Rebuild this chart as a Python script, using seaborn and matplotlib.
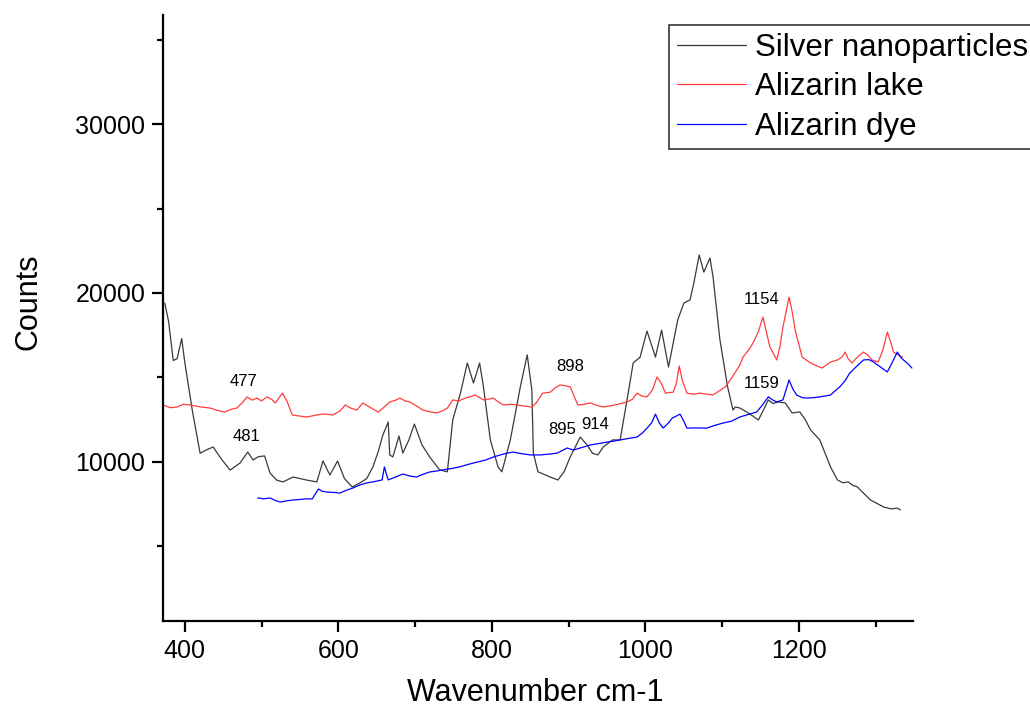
import pandas as pd
import matplotlib
matplotlib.use("Agg")
import matplotlib.pyplot as plt
from matplotlib.ticker import MultipleLocator
import seaborn as sns

# Raman spectra (wavenumber cm-1, counts)
silver_x = [374, 379, 385, 390, 396, 400, 410, 420, 428, 437, 447, 459, 472, 482, 489, 496, 504, 511, 520, 528,
            541, 560, 572, 580, 589, 599, 608, 618, 628, 637, 645, 652, 658, 665, 667, 671, 679, 684, 692, 699,
            709, 719, 732, 742, 749, 759, 768, 776, 784, 789, 798, 808, 813, 824, 837, 846, 852, 854, 860, 876,
            886, 894, 902, 915, 924, 931, 938, 945, 957, 967, 976, 984, 993, 1002, 1008, 1013, 1021, 1030, 1042, 1050,
            1058, 1063, 1070, 1076, 1084, 1088, 1097, 1107, 1114, 1117, 1123, 1132, 1140, 1147, 1153, 1160, 1166, 1173, 1182, 1191,
            1201, 1208, 1215, 1227, 1241, 1250, 1257, 1264, 1270, 1276, 1293, 1310, 1320, 1328, 1332]
silver_y = [19400, 18300, 16000, 16100, 17300, 15900, 13000, 10500, 10700, 10870, 10200, 9500, 9920, 10570, 10100, 10300, 10340, 9330, 8900, 8800,
            9090, 8900, 8800, 10040, 9210, 10040, 9000, 8500, 8740, 9000, 9690, 10600, 11580, 12350, 10400, 10280, 11520, 10510, 11300, 12230,
            10990, 10280, 9510, 9400, 12470, 14060, 15850, 14660, 15850, 14430, 11290, 9690, 9400, 11290, 14430, 16330, 14250, 10510, 9400, 9090,
            8915, 9400, 10280, 11460, 10990, 10500, 10400, 10870, 11290, 11290, 13660, 15850, 16200, 17740, 16900, 16200, 17800, 15610, 18400, 19400,
            19590, 20590, 22250, 21240, 22070, 20950, 17210, 14430, 13060, 13240, 13180, 12940, 12700, 12470, 13000, 13660, 13450, 13540, 13480, 12890,
            12950, 12500, 11880, 11290, 9690, 8920, 8750, 8800, 8600, 8500, 7730, 7320, 7200, 7250, 7140]

lake_x = [372, 381, 390, 398, 407, 420, 433, 442, 452, 460, 468, 475, 481, 488, 494, 500, 507, 513, 518, 527,
          533, 540, 550, 559, 570, 580, 593, 602, 609, 616, 624, 632, 642, 652, 660, 667, 675, 680, 687, 693,
          702, 710, 720, 728, 735, 742, 749, 757, 765, 772, 778, 784, 789, 795, 802, 808, 815, 825, 833, 842,
          852, 858, 866, 876, 883, 889, 896, 902, 907, 912, 920, 928, 936, 945, 952, 960, 968, 976, 983, 989,
          995, 1002, 1009, 1015, 1020, 1026, 1031, 1036, 1040, 1044, 1048, 1054, 1062, 1071, 1080, 1088, 1096, 1104, 1113, 1123,
          1127, 1134, 1140, 1147, 1153, 1158, 1162, 1171, 1175, 1179, 1187, 1191, 1195, 1200, 1204, 1215, 1222, 1230, 1236, 1241,
          1250, 1256, 1260, 1264, 1269, 1276, 1284, 1290, 1295, 1303, 1309, 1315, 1320, 1323, 1329, 1335]
lake_y = [13360, 13200, 13240, 13400, 13360, 13250, 13180, 13050, 12940, 13100, 13180, 13500, 13840, 13650, 13770, 13600, 13840, 13700, 13480, 14060,
          13600, 12770, 12700, 12650, 12750, 12830, 12770, 13000, 13360, 13180, 13060, 13480, 13200, 12940, 13250, 13540, 13650, 13770, 13600, 13540,
          13300, 13060, 12950, 12890, 13000, 13180, 13660, 13600, 13770, 13850, 13950, 13800, 13660, 13700, 13770, 13550, 13360, 13400, 13360, 13300,
          13240, 13500, 14060, 14120, 14400, 14550, 14500, 14430, 13900, 13360, 13400, 13480, 13350, 13240, 13300, 13360, 13450, 13540, 13700, 14060,
          13900, 13840, 14250, 15020, 14700, 14060, 14100, 14120, 14600, 15670, 14800, 14060, 14000, 14060, 14000, 13950, 14200, 14430, 15020, 15730,
          16200, 16600, 17030, 17700, 18570, 17600, 16800, 16030, 16800, 17970, 19750, 18900, 17800, 16900, 16200, 15850, 15700, 15550, 15750, 15910,
          16030, 16200, 16500, 16100, 15850, 16200, 16500, 16300, 16030, 15910, 16600, 17680, 17000, 16500, 16330, 16200]

dye_x = [495, 503, 511, 518, 524, 533, 541, 550, 558, 566, 574, 579, 585, 594, 602, 610, 619, 628, 637, 647,
         657, 660, 663, 665, 675, 684, 693, 702, 710, 719, 728, 736, 748, 758, 770, 781, 792, 802, 811, 820,
         828, 838, 850, 863, 875, 885, 898, 906, 918, 928, 940, 951, 960, 967, 978, 989, 996, 1002, 1008, 1013,
         1018, 1023, 1030, 1035, 1040, 1045, 1050, 1054, 1066, 1080, 1090, 1101, 1112, 1123, 1134, 1145, 1153, 1160, 1166, 1171,
         1179, 1187, 1192, 1197, 1204, 1210, 1220, 1227, 1241, 1247, 1253, 1260, 1266, 1275, 1284, 1291, 1297, 1306, 1315, 1321,
         1328, 1332, 1336, 1342, 1347]
dye_y = [7850, 7800, 7850, 7700, 7610, 7680, 7730, 7760, 7800, 7790, 8380, 8250, 8200, 8180, 8140, 8300, 8440, 8620, 8740, 8820,
         8920, 9690, 9200, 8920, 9100, 9270, 9150, 9090, 9250, 9390, 9450, 9510, 9600, 9690, 9850, 9980, 10100, 10280, 10400, 10510,
         10570, 10480, 10400, 10400, 10450, 10510, 10810, 10690, 10850, 10990, 11080, 11170, 11230, 11290, 11380, 11460, 11700, 11990, 12300, 12820,
         12300, 11990, 12300, 12590, 12700, 12820, 12400, 11990, 12000, 11990, 12150, 12290, 12400, 12650, 12800, 12950, 13400, 13840, 13650, 13540,
         13660, 14840, 14300, 13950, 13800, 13770, 13800, 13840, 13950, 14200, 14430, 14800, 15250, 15650, 16030, 16050, 15910, 15610, 15320, 15850,
         16500, 16200, 16030, 15800, 15550]

series_names = ["Silver nanoparticles", "Alizarin lake", "Alizarin dye"]
series_colors = ["#3a3a3a", "#ff3c3c", "#0000ff"]

peak_text = ["477", "481", "898", "895", "914", "1154", "1159"]
peak_x = [476, 481, 902, 891, 935, 1151, 1152]
peak_y = [14770, 11470, 15670, 11880, 12230, 19640, 14660]

frames = []
for name, xs, ys in zip(series_names, [silver_x, lake_x, dye_x], [silver_y, lake_y, dye_y]):
    frames.append(pd.DataFrame({"wavenumber": xs, "counts": ys, "sample": name}))
df = pd.concat(frames, ignore_index=True)

sns.set_style("ticks")
plt.rcParams["font.family"] = ["Liberation Sans", "DejaVu Sans"]
plt.rcParams["text.color"] = "black"
plt.rcParams["axes.labelcolor"] = "black"
plt.rcParams["xtick.color"] = "black"
plt.rcParams["ytick.color"] = "black"

fig = plt.figure(figsize=(10.30, 7.11), dpi=100)
ax = fig.add_axes([0.1585, 0.127, 0.7276, 0.852])

sns.lineplot(data=df, x="wavenumber", y="counts", hue="sample", hue_order=series_names,
             palette=dict(zip(series_names, series_colors)), estimator=None, sort=False,
             linewidth=0.9, ax=ax)

for t, x, y in zip(peak_text, peak_x, peak_y):
    ax.text(x, y, t, fontsize=12, ha="center", va="center", color="black")

ax.set_xlim(372, 1348)
ax.set_ylim(575, 36480)
ax.xaxis.set_major_locator(MultipleLocator(200))
ax.xaxis.set_minor_locator(MultipleLocator(100))
ax.yaxis.set_major_locator(MultipleLocator(10000))
ax.yaxis.set_minor_locator(MultipleLocator(5000))

sns.despine(ax=ax)
for side in ["left", "bottom"]:
    ax.spines[side].set_linewidth(1.6)
    ax.spines[side].set_color("black")
ax.tick_params(which="major", length=8, width=1.6, labelsize=18, pad=5, color="black", labelcolor="black")
ax.tick_params(which="minor", length=4.5, width=1.6, color="black")

ax.set_xlabel("Wavenumber cm-1", fontsize=22, color="black")
ax.set_ylabel("Counts", fontsize=22, color="black")
ax.xaxis.set_label_coords(0.497, -0.095)
ax.yaxis.set_label_coords(-0.16, 0.526)

leg = ax.legend(loc="upper left", bbox_to_anchor=(0.6495, 0.9648), bbox_transform=fig.transFigure,
                borderaxespad=0, fontsize=22.5, frameon=True, fancybox=False, framealpha=1,
                edgecolor="#333333", handlelength=2.2, handletextpad=0.3, labelspacing=0.3,
                borderpad=0.25, title=None)
leg.get_frame().set_linewidth(1.2)
for txt in leg.get_texts():
    txt.set_color("black")

fig.savefig("out.png", dpi=100)
